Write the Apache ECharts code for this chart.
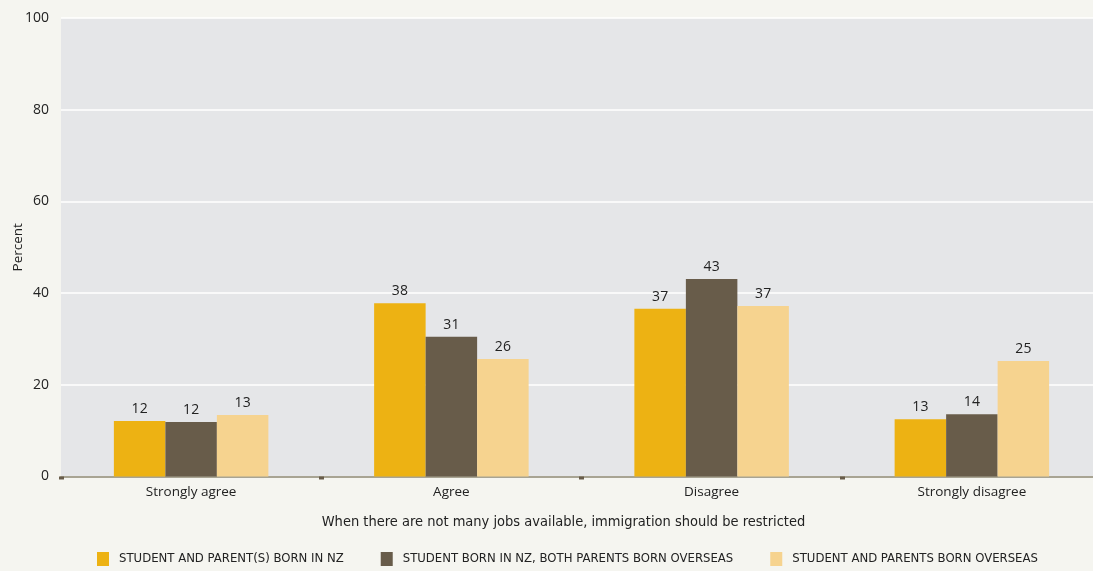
<!DOCTYPE html>
<html>
<head>
<meta charset="utf-8">
<script src="https://cdn.jsdelivr.net/npm/echarts@6/dist/echarts.min.js"></script>
<style>
html,body{margin:0;padding:0;background:#F5F5F0;}
#chart{width:1093px;height:571px;}
</style>
</head>
<body>
<div id="chart"></div>
<script>
const categories = ["Strongly agree", "Agree", "Disagree", "Strongly disagree"];
const seriesNames = [
  "STUDENT AND PARENT(S) BORN IN NZ",
  "STUDENT BORN IN NZ, BOTH PARENTS BORN OVERSEAS",
  "STUDENT AND PARENTS BORN OVERSEAS"
];
const bornNZ = [12.1, 37.8, 36.6, 12.5];
const bornNZParentsOverseas = [11.9, 30.5, 43.1, 13.6];
const allOverseas = [13.4, 25.6, 37.2, 25.2];
const yTicks = [0, 20, 40, 60, 80, 100];
const xTitle = "When there are not many jobs available, immigration should be restricted";
const yTitle = "Percent";

const colors = ["#EDB213", "#685C4A", "#F6D38F"];
const mainFont = "'Open Sans', 'Noto Sans', sans-serif";
const narrowFont = "'Liberation Sans Narrow', 'DejaVu Sans Condensed', 'Roboto', sans-serif";

const chart = echarts.init(document.getElementById('chart'), null, {renderer: 'canvas'});

function mkSeries(name, data, color) {
  return {
    name: name,
    type: 'bar',
    data: data,
    barWidth: 51.5,
    barGap: '0%',
    itemStyle: {color: color},
    label: {
      show: true,
      position: 'top',
      distance: 5,
      color: '#222',
      fontFamily: mainFont,
      fontSize: 14,
      formatter: p => Math.round(p.value)
    },
    emphasis: {disabled: true}
  };
}

chart.setOption({
  backgroundColor: '#F5F5F0',
  animation: false,
  color: colors,
  grid: {
    left: 61,
    top: 18,
    width: 1041,
    height: 458.5,
    containLabel: false,
    outerBoundsMode: 'none',
    show: true,
    backgroundColor: '#E5E6E8',
    borderWidth: 0
  },
  legend: {
    bottom: 0,
    left: 92,
    itemWidth: 12,
    itemHeight: 14,
    itemGap: 37,
    icon: 'rect',
    textStyle: {color: '#222', fontFamily: narrowFont, fontSize: 13, padding: [0, 0, 0, 5]},
    data: seriesNames
  },
  xAxis: {
    type: 'category',
    data: categories,
    name: xTitle,
    nameLocation: 'middle',
    nameGap: 38,
    nameTextStyle: {color: '#222', fontFamily: narrowFont, fontSize: 14.5, padding: [0, 36, 0, 0]},
    axisLine: {show: true, lineStyle: {color: '#A8A493', width: 2}},
    axisTick: {show: true, length: 3, alignWithLabel: false, lineStyle: {color: '#685C4A', width: 5}},
    axisLabel: {color: '#222', fontFamily: mainFont, fontSize: 13.5, margin: 9}
  },
  yAxis: {
    type: 'value',
    min: yTicks[0],
    max: yTicks[yTicks.length - 1],
    interval: yTicks[1] - yTicks[0],
    name: yTitle,
    nameLocation: 'middle',
    nameRotate: 90,
    nameGap: 36,
    nameMoveOverlap: false,
    nameTextStyle: {color: '#222', fontFamily: mainFont, fontSize: 13.5},
    axisLine: {show: false},
    axisTick: {show: false},
    axisLabel: {color: '#222', fontFamily: mainFont, fontSize: 14, margin: 12},
    splitLine: {show: true, lineStyle: {color: '#FFFFFF', width: 1.5}}
  },
  series: [
    mkSeries(seriesNames[0], bornNZ, colors[0]),
    mkSeries(seriesNames[1], bornNZParentsOverseas, colors[1]),
    mkSeries(seriesNames[2], allOverseas, colors[2])
  ]
});
</script>
</body>
</html>
